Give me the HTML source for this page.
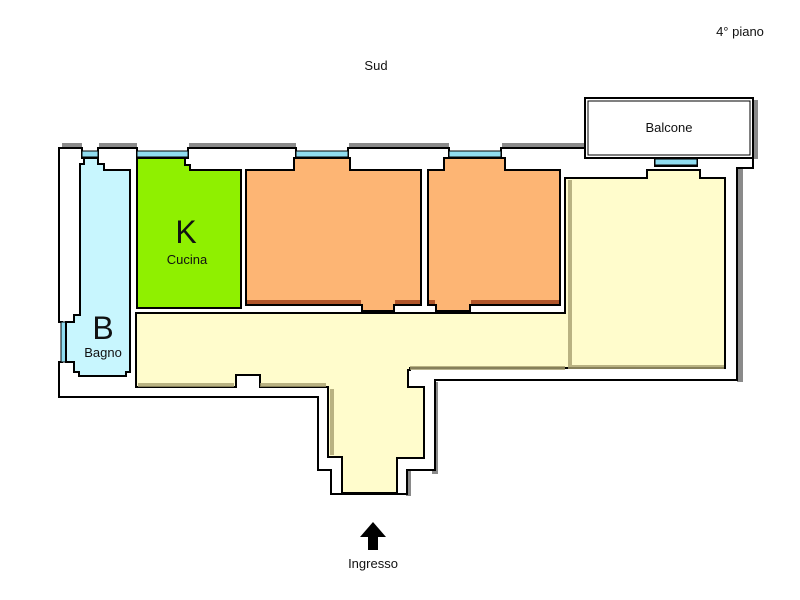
<!DOCTYPE html>
<html><head><style>body{margin:0;background:#fff}svg{display:block}text{font-family:"Liberation Sans",sans-serif;fill:#111}</style></head>
<body>
<svg width="800" height="600" viewBox="0 0 800 600" xmlns="http://www.w3.org/2000/svg">
<!-- shadows -->
<g fill="#8a8a8a">
<rect x="62" y="143" width="20" height="6"/>
<rect x="99" y="143" width="38" height="6"/>
<rect x="189" y="143" width="107" height="6"/>
<rect x="349" y="143" width="100" height="6"/>
<rect x="502" y="143" width="83" height="6"/>
<rect x="700" y="153" width="58" height="6"/>
<rect x="753" y="100" width="5" height="58"/>
<rect x="737" y="168" width="6" height="214"/>
<rect x="432" y="382" width="6" height="92"/>
<rect x="406" y="470" width="5" height="26"/>
</g>
<!-- outer walls -->
<path d="M59,148 H82 V158 H98 V148 H137 V158 H188 V148 H296 V158 H348 V148 H449 V158 H501 V148 H585 V158 H655 V166 H697 V158 H753 V168 H737 V380 H435 V470 H407 V494 H331 V470 H318 V397 H59 V362 H62 V322 H59 Z" fill="#fff" stroke="#000" stroke-width="2"/>
<!-- windows -->
<g fill="#8fdcf0" stroke="#000" stroke-width="1">
<rect x="82" y="151" width="16" height="6"/>
<rect x="137" y="151" width="51" height="6"/>
<rect x="296" y="151" width="52" height="6"/>
<rect x="449" y="151" width="52" height="6"/>
<rect x="655" y="159" width="42" height="6"/>
<rect x="61" y="322" width="5" height="40"/>
</g>
<!-- balcone -->
<rect x="585" y="98" width="168" height="60" fill="#fff" stroke="#000" stroke-width="2"/>
<rect x="588" y="101" width="162" height="54" fill="none" stroke="#000" stroke-width="1"/>
<!-- bagno -->
<path d="M84,158 H98 V164 H104 V170 H130 V372 H126 V376 H79 V372 H74 V362 H66 V322 H74 V315 H80 V164 H84 Z" fill="#c8f6fe" stroke="#000" stroke-width="2"/>
<!-- kitchen -->
<path d="M137,170 V308 H241 V170 H190 V165 H185 V158 H137 Z" fill="#8ff000" stroke="#000" stroke-width="2"/>
<!-- orange rooms -->
<path d="M246,305 V170 H294 V158 H350 V170 H421 V305 H394 V311 H362 V305 Z" fill="#fdb574" stroke="#000" stroke-width="2"/>
<path d="M428,305 V170 H444 V158 H505 V170 H560 V305 H470 V311 H436 V305 Z" fill="#fdb574" stroke="#000" stroke-width="2"/>
<g fill="#b0552a"><rect x="247" y="300" width="114" height="4"/><rect x="395" y="300" width="25" height="4"/><rect x="429" y="300" width="6" height="4"/><rect x="471" y="300" width="88" height="4"/></g>
<!-- corridor / living -->
<path d="M136,313 H565 V178 H647 V170 H700 V178 H725 V368 H410 V370 H408 V387 H424 V458 H397 V493 H342 V457 H328 V387 H260 V375 H236 V387 H136 Z" fill="#fffccc" stroke="#000" stroke-width="2"/>
<g fill="#a8a070" opacity="0.8">
<rect x="138" y="383" width="96" height="4"/>
<rect x="260" y="383" width="66" height="4"/>
<rect x="410" y="366" width="155" height="4"/>
<rect x="568" y="365" width="156" height="4"/>
<rect x="568" y="180" width="4" height="186"/>
<rect x="330" y="389" width="4" height="66"/>
</g>
<!-- labels -->
<text x="740" y="36" font-size="13" text-anchor="middle">4° piano</text>
<text x="376" y="70" font-size="13" text-anchor="middle">Sud</text>
<text x="669" y="132" font-size="13" text-anchor="middle">Balcone</text>
<text x="186" y="243" font-size="32" text-anchor="middle">K</text>
<text x="187" y="264" font-size="13" text-anchor="middle">Cucina</text>
<text x="103" y="339" font-size="32" text-anchor="middle">B</text>
<text x="103" y="357" font-size="13" text-anchor="middle">Bagno</text>
<path d="M373,522 L386,537 H378 V550 H368 V537 H360 Z" fill="#000"/>
<text x="373" y="568" font-size="13" text-anchor="middle">Ingresso</text>
</svg>
</body></html>
